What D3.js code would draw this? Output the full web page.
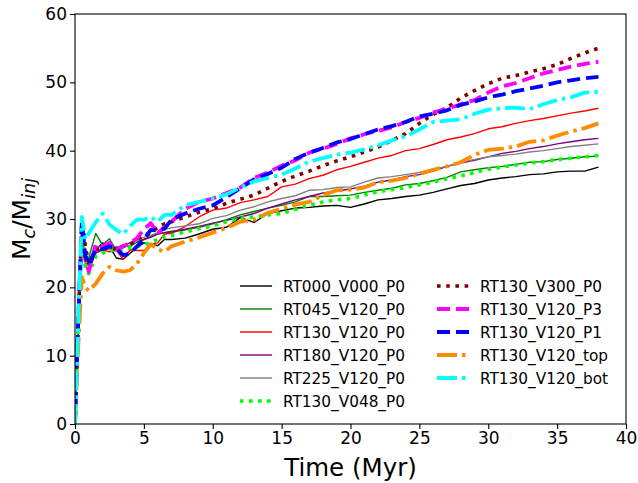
<!DOCTYPE html>
<html>
<head>
<meta charset="utf-8">
<script src="https://cdn.jsdelivr.net/npm/d3@7"></script>
<style>
	body { margin: 0; background: #fff; }
	svg text { font-family: 'DejaVu Sans', sans-serif; fill: #000; }
</style>
</head>
<body>
<svg id="chart" width="638" height="483"></svg>
<script>
/* global d3 */

// Zeitachse (Myr)
var aTime = [0, 0.2, 0.5, 0.75, 1, 1.5, 2, 2.5, 3, 3.5, 4, 4.5, 5, 5.5, 6, 6.5, 7, 8, 9, 10, 11, 12, 13, 14, 15, 16, 17, 18, 19, 20, 21, 22, 23, 24, 25, 26, 27, 28, 29, 30, 31, 32, 33, 34, 35, 36, 37, 38];

// Werte M_c/M_inj je Lauf
var aRT000V000P0 = [0, 13, 28.5, 25, 24, 25.5, 26.5, 26, 24.3, 24.1, 25, 25.8, 26.5, 26.3, 26.1, 27, 27, 27.2, 27.8, 28.5, 28.8, 30.2, 29.5, 30.8, 31.2, 31.6, 31.7, 31.9, 32, 31.7, 32.2, 32.8, 33, 33.3, 33.5, 33.9, 34.4, 34.9, 35.2, 35.7, 36, 36.2, 36.5, 36.6, 36.9, 37, 37, 37.6];
var aRT045V120P0 = [0, 13, 29, 24.5, 24.3, 27.9, 26.2, 27.1, 25.4, 26, 26, 26.6, 27, 27.5, 27.8, 28, 28.2, 28.4, 28.8, 29.3, 29.9, 30.6, 31.1, 31.6, 32, 32.5, 33.3, 33.3, 33.4, 33.5, 33.9, 34.2, 34.5, 35, 35.2, 35.6, 36.1, 36.9, 37.2, 37.5, 37.7, 38, 38.3, 38.4, 38.7, 38.9, 39.1, 39.2];
var aRT130V120P0 = [0, 13, 29, 24.5, 23.8, 25.3, 25.5, 25.2, 25.4, 24.1, 25.5, 25.4, 25.4, 26.3, 26.5, 27.8, 27.9, 28.9, 30.3, 31.3, 31.6, 32.4, 32.8, 33.3, 34.7, 35.1, 35.9, 36.4, 37.2, 37.7, 38.3, 38.9, 39.3, 40, 40.3, 40.9, 41.6, 42, 42.5, 43.2, 43.5, 44, 44.4, 44.7, 45.1, 45.5, 45.8, 46.2];
var aRT180V120P0 = [0, 13, 29.5, 23.5, 22.3, 25, 25.5, 25.6, 25.8, 26.2, 26.5, 26.8, 27, 27.3, 27.8, 28, 28.1, 28.5, 28.9, 29.4, 29.8, 30.3, 30.8, 31.6, 32.2, 32.8, 33.3, 33.8, 34.1, 34.4, 34.8, 35.4, 35.7, 36.2, 36.5, 37, 37.7, 38.2, 38.6, 39.1, 39.6, 39.9, 40.3, 40.6, 41, 41.3, 41.6, 41.8];
var aRT225V120P0 = [0, 13, 29.5, 23.7, 23, 25.8, 26, 25.5, 26, 25.8, 26.2, 26.8, 27.3, 27.6, 28, 28.5, 28.7, 29, 29.3, 30.1, 30.5, 31.3, 31.8, 32.5, 33, 33.4, 34.2, 34.3, 34.6, 34.7, 35.4, 36, 36.2, 36.5, 36.8, 37.3, 37.7, 38.3, 38.7, 39.1, 39.3, 39.5, 39.8, 40, 40.3, 40.6, 40.8, 41];
var aRT130V048P0 = [0, 13, 27.5, 23, 22, 24.5, 25, 25.3, 25.6, 25.5, 25.8, 26, 26.2, 26.6, 27, 27.4, 27.6, 28.1, 28.6, 29, 29.6, 30.1, 30.3, 30.6, 30.8, 31.4, 32, 32.5, 32.8, 33, 33.5, 34, 34.3, 34.6, 35, 35.4, 35.9, 36.3, 36.8, 37.3, 37.6, 37.9, 38.2, 38.4, 38.7, 38.9, 39.1, 39.3];
var aRT130V300P0 = [0, 13, 30.1, 26, 23.5, 25.5, 26, 25.8, 25.6, 26, 26.3, 27, 27.6, 28, 28.8, 29.3, 29.6, 30.3, 31, 31.5, 32.3, 32.9, 33.5, 34.5, 35.5, 36.3, 37, 37.8, 38.5, 39.1, 39.8, 40.5, 41.5, 42.5, 44, 45.3, 46.3, 47.7, 48.8, 49.8, 50.6, 51, 51.5, 52, 52.6, 53.5, 54.3, 55];
var aRT130V120P3 = [0, 13, 29.5, 24, 22.3, 26.3, 26, 26.5, 25.5, 26, 26.5, 27.2, 28.5, 29.4, 27.9, 28.8, 29.6, 31.5, 32.5, 33, 33.8, 34.6, 36, 36.8, 37.8, 38.6, 39.7, 40.3, 41, 41.8, 42.4, 42.9, 43.4, 44.2, 44.8, 45.6, 46.1, 46.8, 47.4, 48.5, 49.4, 49.9, 50.6, 51.3, 51.8, 52.3, 52.7, 53];
var aRT130V120P1 = [0, 13, 29.5, 24.5, 23.3, 25.5, 25.6, 26, 25.7, 24.7, 25, 26, 27, 28.4, 28.3, 28.6, 29.9, 30.8, 31.5, 32, 33.2, 34.5, 35.8, 36.6, 37.5, 38.8, 39.7, 40.4, 41.2, 41.7, 42.4, 43.1, 43.6, 44.2, 45, 45.4, 45.9, 46.7, 47.2, 47.8, 48.2, 48.7, 49.1, 49.5, 50, 50.3, 50.6, 50.8];
var aRT130V120top = [0, 10, 21.5, 20, 19.5, 20.5, 22, 23, 22.5, 22.3, 22.5, 23.5, 25, 26.3, 25.6, 25.2, 26, 26.7, 27.3, 28, 28.7, 29.6, 29.9, 30.9, 31.5, 32.1, 32.5, 33.5, 34.2, 34.3, 34.6, 35.4, 35.6, 36, 36.6, 37.2, 37.7, 38.3, 39.4, 40.1, 40.3, 40.6, 41.3, 41.5, 42.2, 42.8, 43.3, 44];
var aRT130V120bot = [0, 13, 30.3, 27, 27.9, 29.5, 30.8, 29.2, 28.4, 27.8, 29, 29.9, 29.9, 30.3, 29.6, 30.6, 30.6, 32, 32.5, 33, 33.6, 34.6, 35.5, 36, 36.5, 37.4, 38.4, 38.9, 39.4, 39.7, 40.2, 40.8, 41.5, 42.1, 43.1, 44.2, 44.4, 44.6, 45.4, 46, 46.2, 46.3, 46.1, 46.8, 47.4, 47.8, 48.5, 48.6];

var aNamen = ['RT000_V000_P0', 'RT045_V120_P0', 'RT130_V120_P0', 'RT180_V120_P0', 'RT225_V120_P0', 'RT130_V048_P0',
	'RT130_V300_P0', 'RT130_V120_P3', 'RT130_V120_P1', 'RT130_V120_top', 'RT130_V120_bot'];
var aWerte = [aRT000V000P0, aRT045V120P0, aRT130V120P0, aRT180V120P0, aRT225V120P0, aRT130V048P0,
	aRT130V300P0, aRT130V120P3, aRT130V120P1, aRT130V120top, aRT130V120bot];

var xTicks = [0, 5, 10, 15, 20, 25, 30, 35, 40];
var yTicks = [0, 10, 20, 30, 40, 50, 60];

// Linienstile (Farbe, Breite, Strichmuster)
var aStile = [
	{c: '#000000', w: 1.4, d: null},
	{c: '#008000', w: 1.4, d: null},
	{c: '#ff0000', w: 1.4, d: null},
	{c: '#800080', w: 1.4, d: null},
	{c: '#808080', w: 1.4, d: null},
	{c: '#00ff00', w: 3.6, d: '3.6,5.4'},
	{c: '#800000', w: 3.6, d: '3.6,5.6'},
	{c: '#ff00ff', w: 3.8, d: '13,6'},
	{c: '#0000ff', w: 3.8, d: '13,6'},
	{c: '#ff8c00', w: 3.8, d: '20,5,3.5,5'},
	{c: '#00ffff', w: 3.8, d: '20,5,3.5,5'}
];

var svg = d3.select('#chart');
var m = {l: 75, r: 626, t: 14, b: 424};

var x = d3.scaleLinear().domain([0, 40]).range([m.l, m.r]);
var y = d3.scaleLinear().domain([0, 60]).range([m.b, m.t]);

svg.append('defs').append('clipPath').attr('id', 'clip')
	.append('rect').attr('x', m.l).attr('y', m.t).attr('width', m.r - m.l).attr('height', m.b - m.t);

// Kurven
var line = d3.line().x(function (d) { return x(d[0]); }).y(function (d) { return y(d[1]); });
var gLines = svg.append('g').attr('clip-path', 'url(#clip)');
aWerte.forEach(function (val, key) {
	var pts = aTime.map(function (t, i) { return [t, val[i]]; });
	gLines.append('path')
		.attr('d', line(pts))
		.attr('fill', 'none')
		.attr('stroke', aStile[key].c)
		.attr('stroke-width', aStile[key].w)
		.attr('stroke-dasharray', aStile[key].d)
		.attr('stroke-linejoin', 'round');
});

// Achsen
var xAxis = svg.append('g').attr('transform', 'translate(0,' + m.b + ')')
	.call(d3.axisBottom(x).tickValues(xTicks).tickSize(5).tickPadding(3).tickFormat(d3.format('d')));
var yAxis = svg.append('g').attr('transform', 'translate(' + m.l + ',0)')
	.call(d3.axisLeft(y).tickValues(yTicks).tickSize(5).tickPadding(3).tickFormat(d3.format('d')));
[xAxis, yAxis].forEach(function (g) {
	g.select('.domain').remove();
	g.selectAll('.tick line').attr('stroke', '#000').attr('stroke-width', 1.1);
	g.selectAll('.tick text').attr('font-size', 17).attr('font-family', 'DejaVu Sans');
});

// Rahmen
svg.append('rect').attr('x', m.l).attr('y', m.t).attr('width', m.r - m.l).attr('height', m.b - m.t)
	.attr('fill', 'none').attr('stroke', '#000').attr('stroke-width', 1.1);

// Beschriftung
svg.append('text').attr('x', (m.l + m.r) / 2).attr('y', 476).attr('text-anchor', 'middle')
	.attr('font-size', 24.5).text('Time (Myr)');

var yl = svg.append('text').attr('transform', 'translate(30,' + ((m.t + m.b) / 2) + ') rotate(-90)')
	.attr('text-anchor', 'middle').attr('font-size', 25);
yl.append('tspan').text('M');
yl.append('tspan').attr('dy', 5).attr('font-size', 17.5).attr('font-style', 'italic').text('c');
yl.append('tspan').attr('dy', -5).text('/M');
yl.append('tspan').attr('dy', 5).attr('font-size', 17.5).attr('font-style', 'italic').text('inj');

// Legende (zwei Spalten, ohne Rahmen)
var gLeg = svg.append('g');
aNamen.forEach(function (name, key) {
	var col = key < 6 ? 0 : 1;
	var row = key < 6 ? key : key - 6;
	var lx = col === 0 ? 240 : 437;
	var ly = 286 + row * 23;
	gLeg.append('line')
		.attr('x1', lx).attr('x2', lx + 32).attr('y1', ly).attr('y2', ly)
		.attr('stroke', aStile[key].c)
		.attr('stroke-width', aStile[key].w)
		.attr('stroke-dasharray', aStile[key].d);
	gLeg.append('text').attr('x', lx + 43).attr('y', ly).attr('dy', '0.36em')
		.attr('font-size', 15.3).text(name);
});
</script>
</body>
</html>
